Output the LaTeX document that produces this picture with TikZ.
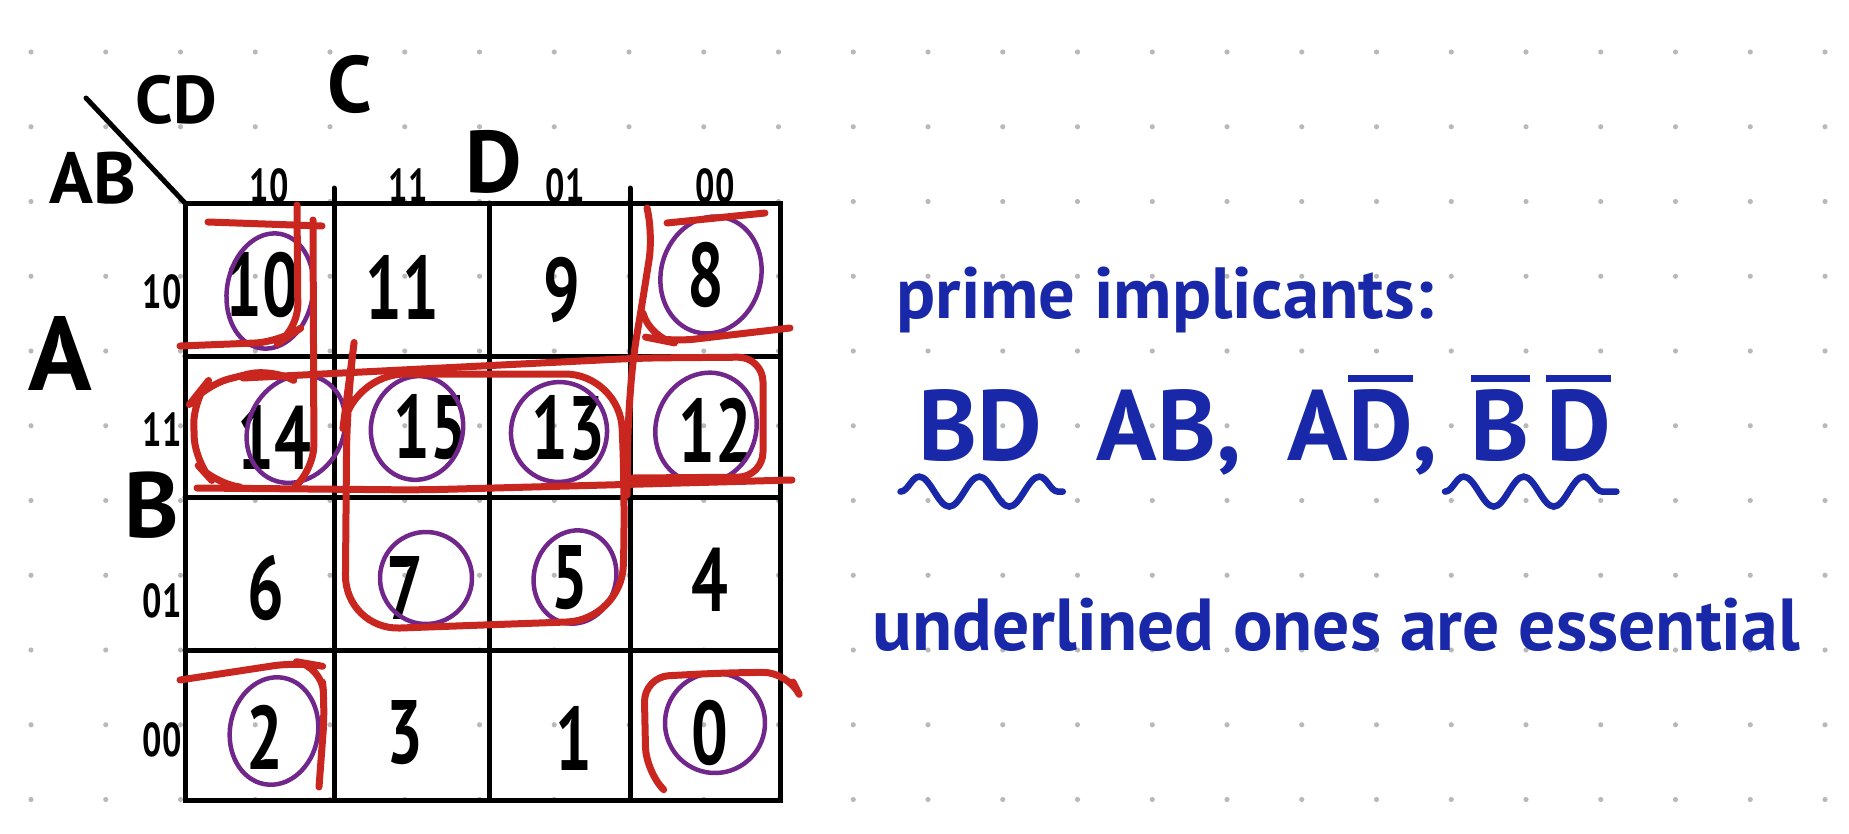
\documentclass[tikz,border=0pt]{standalone}
\usepackage{fontspec}
\setmainfont{PT Sans}
\usetikzlibrary{decorations.pathmorphing}
\definecolor{kmred}{RGB}{200,38,30}
\definecolor{kmpurple}{RGB}{112,38,138}
\definecolor{kmink}{RGB}{24,40,168}
\definecolor{kmdot}{RGB}{185,185,185}
\newcommand\hw[1]{\fontsize{#1}{#1}\selectfont\bfseries}
\newcommand\nar[1]{\scalebox{.72}[1]{#1}}
\newcommand\cmpl[1]{\vbox{\hrule height 2.6pt\kern 3pt\hbox{#1}}}

\begin{document}
\begin{tikzpicture}[x=.4pt,y=-.4pt,
    grid/.style={line width=2pt,line cap=round},
    loop/.style={kmred,line width=2.8pt,line cap=round,line join=round,rounded corners=10pt},
    ring/.style={kmpurple,line width=1.8pt},
    num/.style={inner sep=0pt,font=\hw{36}},
    lbl/.style={inner sep=0pt},
    ink/.style={kmink,inner sep=0pt,anchor=base west},
    squig/.style={kmink,line width=2.6pt,line cap=round,decorate,decoration={snake,amplitude=6pt,segment length=24pt}}]
  \useasboundingbox (0,0) rectangle (1849,834);
  % dotted paper
  \foreach \i in {0,...,24}
    \foreach \j in {0,...,10}
      \fill[kmdot] (31+74.75*\i,52+74.75*\j) circle (2.6);

  % the map
  \draw[grid] (185,203) rectangle (780,800);
  \draw[grid] (334,188) -- (334,800);
  \draw[grid] (489,203) -- (489,800);
  \draw[grid] (630,188) -- (630,800);
  \foreach \y in {356,497,650} \draw[grid] (185,\y) -- (780,\y);
  \draw[grid] (86,98) -- (185,203);

  \node[lbl,font=\hw{27}] (cd) at (176,100) {CD};
  \node[lbl,font=\hw{29}] (ab) at (93,178) {AB};
  \node[lbl,font=\hw{32}] (vc) at (350,84) {C};
  \node[lbl,font=\hw{35}] (vd) at (494,162) {D};
  \node[lbl,font=\hw{42}] (va) at (60,353) {A};
  \node[lbl,font=\hw{37}] (vb) at (152,505) {B};
  \foreach \t/\x in {10/269,11/408,01/565,00/715}
    \node[lbl,font=\hw{19}] (col\t) at (\x,186) {\nar{\t}};
  \foreach \t/\y in {10/292,11/430,01/601,00/740}
    \node[lbl,font=\hw{19}] (row\t) at (162,\y) {\nar{\t}};

  % minterms
  \foreach \n/\x/\y in {10/262/285,11/402/287,9/562/290,8/706/275,
      14/274/437,15/430/427,13/568/428,12/715/430,
      6/266/588,7/405/588,5/570/578,4/710/580,
      2/265/737,3/405/733,1/574/738,0/710/733}
    \node[num] (m\n) at (\x,\y) {\nar{\n}};

  % the ones
  \foreach \x/\y/\a/\b/\r in {270/291/43/58/-10,711/275/50/59/-15,
      296/429/47/56/-30,417/428/46/52/-10,559/432/48/50/-10,706/428/50/56/-20,
      426/578/46/46/-20,575/577/41/47/-15,274/731/44/54/-10,715/723/50/50/-10}
    \draw[ring] (\x,\y) ellipse [x radius=\a, y radius=\b, rotate=\r];

  % groups
  \draw[loop] (297,205) -- (298,330) -- (280,342) -- (180,346);
  \draw[loop] (208,222) -- (322,226);
  \draw[loop] (313,220) -- (314,470) -- (298,484);
  \draw[loop] (293,380) -- (272,368) -- (205,385) -- (193,400) -- (195,462) -- (215,484) -- (240,487);
  \draw[loop] (197,488) -- (420,490) -- (792,480);
  \draw[loop] (243,378) -- (640,358) -- (763,357) -- (763,477) -- (633,478);
  \draw[loop,rounded corners=22pt] (347,397) -- (350,374) -- (620,374) -- (625,500) -- (622,620) -- (345,630) -- cycle;
  \draw[loop] (647,208) -- (653,235) -- (640,317) -- (633,357) -- (628,423) -- (627,495);
  \draw[loop] (643,313) -- (650,338) -- (670,342) -- (790,328);
  \draw[loop] (667,223) -- (765,213);
  \draw[loop] (180,680) -- (298,662) -- (321,666) -- (325,707) -- (319,787);
  \draw[loop] (661,787) -- (646,772) -- (644,677) -- (720,673) -- (788,672) -- (793,682);

  % the answer
  \node[ink,font=\hw{29}] (title) at (896,318) {prime implicants:};
  \node[ink,font=\hw{40}] (pbd) at (918,460) {BD};
  \node[ink,font=\hw{40}] (pab) at (1096,460) {AB,};
  \node[ink,font=\hw{40}] (pad) at (1287,460) {A\cmpl{D},};
  \node[ink,font=\hw{40}] (pnbd) at (1470,460) {\cmpl{B}\,\cmpl{D}};
  \draw[squig] ([xshift=-7pt,yshift=-12pt]pbd.south west) -- ([xshift=8pt,yshift=-12pt]pbd.south east);
  \draw[squig] ([xshift=-10pt,yshift=-12pt]pnbd.south west) -- ([xshift=2pt,yshift=-12pt]pnbd.south east);
  \node[ink,font=\hw{29.5}] (note) at (872,650) {underlined ones are essential};
\end{tikzpicture}
\end{document}
